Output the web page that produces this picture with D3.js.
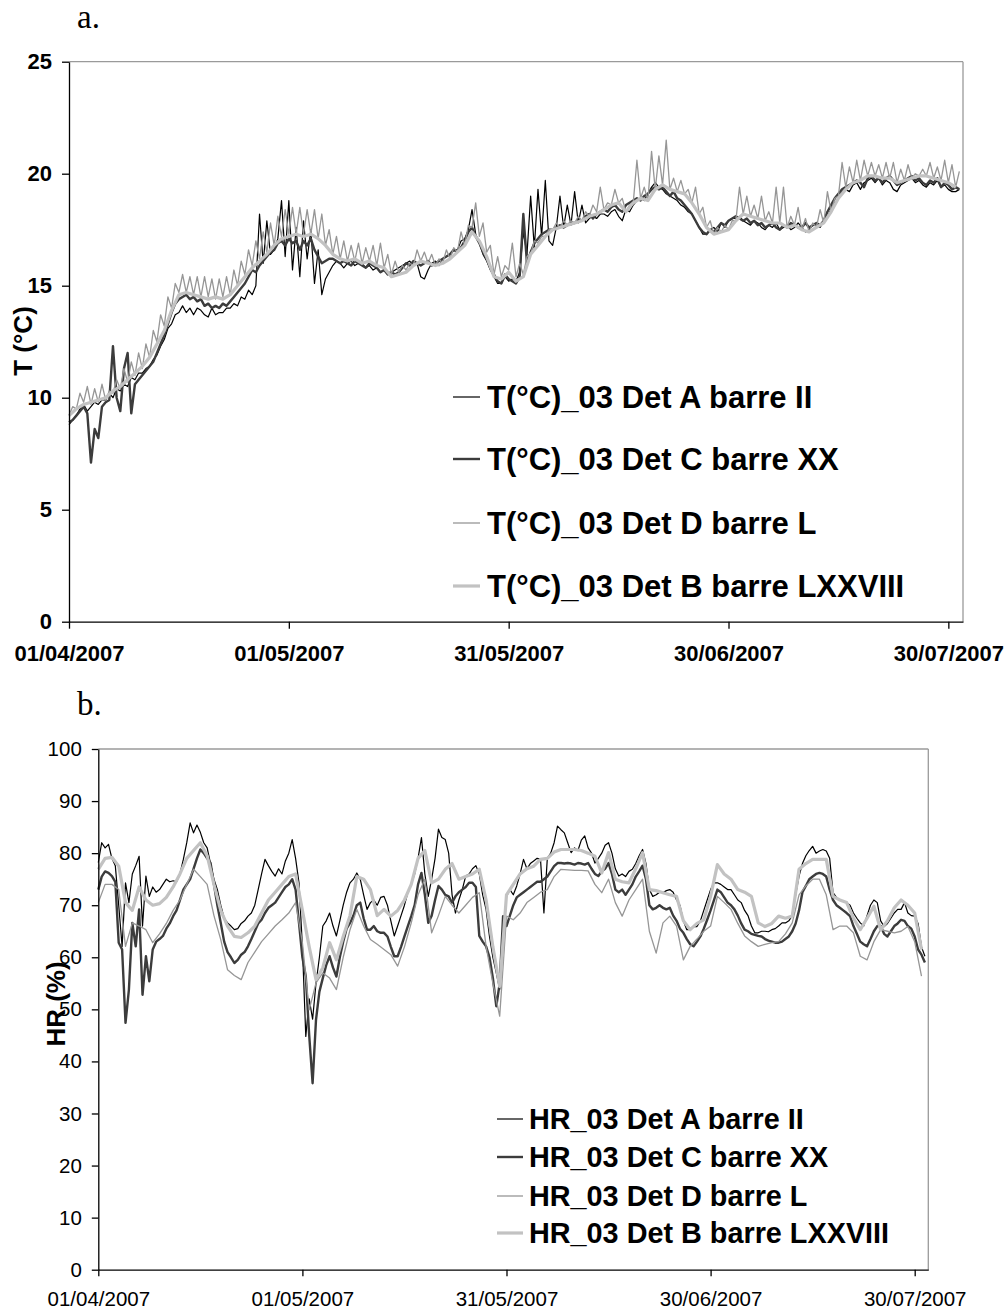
<!DOCTYPE html>
<html><head><meta charset="utf-8">
<script src="https://cdn.jsdelivr.net/npm/d3@7"></script>
<style>body{margin:0;background:#fff}svg{display:block}</style>
</head><body><svg id="c" width="1007" height="1311"></svg>
<script>
// ---------- data ----------
const startDate = "2007-04-01";
const endDate = "2007-08-01";
const tickDates = ["2007-04-01","2007-05-01","2007-05-31","2007-06-30","2007-07-30"];
const tickLabels = ["01/04/2007","01/05/2007","31/05/2007","30/06/2007","30/07/2007"];
const tempTicks = [0,5,10,15,20,25];
const hrTicks = [0,10,20,30,40,50,60,70,80,90,100];
const tempLabels = ["T(°C)_03 Det A barre II","T(°C)_03 Det C barre XX","T(°C)_03 Det D barre L","T(°C)_03 Det B barre LXXVIII"];
const hrLabels = ["HR_03 Det A barre II","HR_03 Det C barre XX","HR_03 Det D barre L","HR_03 Det B barre LXXVIII"];

// temperature, two readings per day
const tempA = [8.8,9.0,9.2,9.5,9.7,9.4,9.6,9.8,9.7,9.9,9.9,10.2,10.0,10.4,10.3,10.6,10.5,10.9,10.8,11.1,
11.1,11.3,11.4,11.7,11.9,12.3,12.6,13.1,13.3,13.7,13.8,14.1,13.8,14.0,13.7,14.0,13.9,13.7,13.6,14.0,
13.7,13.8,13.8,14.0,14.0,14.2,14.1,14.5,14.4,14.8,14.6,15.0,18.2,16.0,17.9,16.4,16.6,17.1,18.8,16.3,
18.8,15.7,17.6,15.4,17.9,16.2,17.5,15.1,16.6,14.6,15.3,15.6,15.9,16.1,16.0,15.8,16.0,16.1,15.9,16.0,
16.0,15.8,15.9,15.7,15.8,15.6,15.7,15.6,15.6,15.7,15.8,15.9,16.0,16.1,15.9,16.0,15.4,15.3,15.7,16.0,
16.1,15.9,16.2,16.3,16.4,16.6,16.6,17.0,17.1,17.5,18.4,17.3,16.9,16.4,16.1,15.7,15.4,15.1,15.1,15.4,
15.2,15.3,15.2,15.6,17.4,16.4,19.0,16.7,19.3,17.2,19.7,17.0,16.8,17.6,19.0,17.6,18.6,17.7,19.2,17.8,
18.6,17.8,18.0,18.1,18.0,18.2,18.2,18.1,18.3,18.4,18.1,17.9,18.4,18.3,18.6,18.8,18.9,18.8,19.1,19.4,
19.6,19.4,19.3,19.1,19.0,18.9,18.8,18.6,18.5,18.3,18.2,17.9,17.6,17.3,17.3,17.5,17.6,17.4,17.8,17.6,
17.9,18.0,18.0,18.1,17.9,17.8,17.7,17.9,17.8,17.6,17.5,17.7,17.6,17.8,17.5,17.6,17.7,17.5,17.6,17.8,
17.6,17.4,17.5,17.7,17.7,17.6,17.9,18.1,18.4,18.7,18.9,19.2,19.3,19.2,19.5,19.6,19.3,19.6,19.7,19.8,
19.6,19.8,19.5,19.7,19.6,19.3,19.2,19.5,19.6,19.7,19.8,19.6,19.7,19.5,19.4,19.6,19.5,19.7,19.4,19.5,
19.3,19.2,19.2,19.3];
const tempC = [8.9,9.0,9.2,9.4,9.6,9.3,7.1,8.6,8.2,9.6,9.8,9.9,12.3,10.0,9.4,11.3,12.0,9.3,10.6,10.8,
11.0,11.2,11.4,11.6,12.0,12.4,12.8,13.3,13.8,14.2,14.4,14.5,14.6,14.4,14.5,14.3,14.4,14.1,14.2,14.0,
14.1,14.0,14.2,14.1,14.3,14.5,14.7,14.9,15.1,15.4,15.7,15.6,15.9,16.1,16.3,16.5,16.6,16.9,17.0,16.8,
17.1,16.9,17.0,16.6,17.0,16.8,17.1,16.6,16.3,16.0,16.1,16.2,16.2,16.1,16.0,16.1,16.0,15.9,16.1,16.0,
15.9,15.8,16.0,15.9,15.8,15.6,15.7,15.5,15.6,15.5,15.6,15.8,16.0,15.9,16.1,16.0,15.9,16.0,16.1,15.9,
16.0,16.1,16.2,16.3,16.4,16.6,16.5,16.7,17.0,17.4,17.6,17.2,16.9,16.5,16.2,15.8,15.5,15.2,15.1,15.5,
15.3,15.2,15.1,15.4,18.2,16.0,16.5,16.9,17.1,17.3,17.4,17.5,17.5,17.6,17.7,17.6,17.7,17.8,17.8,17.9,
17.9,18.1,18.2,18.0,18.2,18.3,18.4,18.3,18.5,18.6,18.4,18.3,18.6,18.7,18.8,18.9,18.8,19.0,19.1,19.3,
19.4,19.3,19.4,19.2,19.0,19.2,18.9,18.8,18.6,18.4,18.2,17.9,17.6,17.4,17.3,17.5,17.4,17.6,17.8,17.7,
17.9,18.0,18.1,18.0,17.9,18.0,17.8,17.9,17.7,17.8,17.6,17.7,17.8,17.6,17.5,17.7,17.6,17.8,17.7,17.6,
17.6,17.8,17.6,17.7,17.8,17.7,17.9,18.3,18.6,18.9,19.1,19.3,19.4,19.5,19.6,19.7,19.6,19.4,19.8,19.9,
19.7,19.8,19.6,19.8,19.9,19.7,19.5,19.6,19.7,19.8,19.9,19.7,19.8,19.6,19.5,19.7,19.6,19.8,19.4,19.6,
19.5,19.3,19.4,19.3];
const tempD = [9.2,9.6,9.5,10.2,9.8,10.5,9.7,10.4,9.8,10.6,9.9,10.3,10.2,10.8,10.4,11.3,10.7,11.6,11.0,12.0,
11.3,12.4,11.8,13.0,12.5,13.7,13.2,14.5,14.0,15.1,14.7,15.5,14.7,15.4,14.6,15.4,14.5,15.4,14.5,15.3,
14.4,15.3,14.5,15.4,14.6,15.7,15.0,16.1,15.5,16.6,15.9,17.0,16.2,17.4,16.5,17.8,16.8,18.1,17.2,18.4,
17.3,18.5,17.3,18.5,17.3,18.4,17.3,18.4,17.1,18.2,16.8,17.5,16.4,17.2,16.2,17.0,16.1,16.8,16.1,16.9,
16.0,16.7,16.1,16.8,15.9,16.9,15.8,16.4,15.5,16.1,15.6,15.9,15.7,16.0,15.9,16.6,16.1,16.5,16.0,16.4,
15.9,16.2,16.0,16.6,16.2,16.7,16.5,17.4,16.8,17.7,17.6,18.7,17.2,17.8,16.5,16.8,15.5,16.3,15.4,15.9,
15.7,16.9,15.4,16.0,15.5,16.3,16.4,17.0,16.9,17.2,17.2,17.5,17.5,17.8,17.6,17.9,17.7,17.9,17.8,18.1,
17.9,18.3,18.1,18.6,18.3,19.4,18.4,18.7,18.6,19.3,18.7,18.9,18.3,18.6,18.7,20.6,18.9,19.4,18.8,21.0,
19.3,20.8,19.5,21.5,19.3,19.8,19.2,19.7,19.1,19.3,18.7,19.4,18.2,18.5,17.6,17.9,17.3,17.6,17.4,17.7,
17.5,17.9,17.9,19.4,18.2,19.0,18.1,18.6,18.0,19.0,17.9,18.3,17.8,19.4,17.8,19.4,17.6,18.1,17.7,18.5,
17.5,18.0,17.4,17.8,17.6,18.4,17.8,19.2,18.3,18.9,19.0,20.5,19.4,20.3,19.6,20.6,19.7,20.6,19.9,20.5,
19.9,20.4,19.8,20.5,19.8,20.5,19.6,20.2,19.7,20.4,19.8,20.0,19.9,20.2,19.9,20.5,19.8,20.3,19.7,20.6,
19.6,20.4,19.4,20.1];
// one reading per day
const tempB = [9.2,9.5,9.7,9.8,9.9,10.0,10.3,10.5,10.8,11.1,11.4,11.8,12.4,13.0,13.9,14.6,14.7,14.6,14.5,14.4,
14.5,14.4,14.6,15.0,15.4,15.8,16.1,16.4,16.8,17.1,17.2,17.3,17.2,17.3,17.1,16.8,16.4,16.2,16.1,16.2,
16.0,16.1,15.9,15.8,15.4,15.5,15.6,15.9,16.1,16.0,15.9,16.0,16.2,16.5,16.8,17.4,17.0,16.3,15.4,15.3,
15.6,15.2,15.4,16.4,16.8,17.2,17.5,17.6,17.7,17.8,17.9,18.1,18.2,18.4,18.6,18.7,18.3,18.7,18.9,18.8,
19.3,19.5,19.3,19.2,19.1,18.7,18.2,17.6,17.3,17.4,17.5,17.9,18.2,18.1,18.0,17.9,17.8,17.8,17.6,17.7,
17.5,17.4,17.6,17.8,18.3,18.9,19.3,19.6,19.7,19.9,19.9,19.8,19.8,19.6,19.7,19.8,19.9,19.9,19.8,19.7,
19.6,19.4];

// relative humidity
const hrA = [78.2,82.0,81.0,81.7,79.0,77.6,70.0,62.1,74.3,70.5,76.0,77.6,79.4,66.0,75.6,71.7,73.5,72.5,73.0,74.0,
75.0,74.5,74.7,74.5,76.0,78.8,82.0,85.8,83.9,85.4,84.0,82.0,81.0,78.0,75.0,73.0,70.0,67.5,66.6,66.0,
65.3,65.5,66.5,67.0,67.9,68.5,70.0,73.0,76.0,78.8,77.6,76.5,75.6,77.0,76.0,78.5,80.0,82.6,79.0,74.3,
62.1,44.8,52.0,48.1,55.0,60.0,66.0,67.0,68.5,66.0,64.1,67.0,70.0,72.5,74.3,75.0,76.2,75.0,72.0,69.2,
70.5,71.0,70.0,71.5,71.7,70.0,67.0,64.1,66.0,68.0,70.0,72.4,74.0,76.0,79.0,83.0,76.0,71.7,75.0,79.0,
84.6,83.0,82.6,80.0,72.0,68.5,71.0,73.0,75.6,76.0,77.0,77.6,76.0,72.0,69.2,64.0,60.0,57.0,53.8,62.0,
71.7,73.0,72.0,73.7,76.0,78.8,77.0,78.0,78.5,79.0,78.8,68.5,79.0,80.0,82.0,85.2,84.5,83.9,82.0,80.1,
81.0,80.5,82.5,83.3,81.0,80.0,78.1,79.0,80.0,81.5,82.0,80.0,77.0,75.6,76.0,75.5,76.5,76.9,78.0,79.5,
80.7,78.0,73.0,71.7,72.0,72.5,72.4,72.8,73.0,72.5,71.0,70.0,67.0,65.3,65.3,65.9,65.9,67.0,69.0,71.0,
73.0,74.3,74.3,74.0,73.5,73.0,73.0,72.0,71.0,70.5,69.0,68.0,66.0,64.7,64.7,65.0,65.0,64.9,65.3,65.5,
66.0,66.6,66.6,67.0,68.0,72.0,75.6,78.0,79.5,80.5,81.3,80.0,80.4,80.7,80.4,79.0,72.4,71.5,71.0,70.8,
70.5,70.0,68.5,67.5,66.6,66.0,68.0,70.0,71.0,70.5,67.0,65.9,66.5,67.5,68.5,69.2,69.2,70.5,68.5,68.0,
67.9,66.5,62.0,60.2];
const hrC = [73.0,75.5,76.5,76.2,75.6,74.5,62.8,61.5,47.4,53.8,66.6,62.1,69.2,52.8,60.2,55.4,61.5,63.0,63.5,64.1,
65.5,66.5,67.9,69.0,71.0,73.0,74.0,75.0,77.0,79.0,80.7,80.0,79.0,78.1,74.0,70.0,66.6,63.0,61.0,60.0,
58.9,59.5,60.5,61.0,62.1,63.5,65.0,66.5,67.2,68.5,69.5,70.0,70.5,71.5,72.5,73.5,74.0,75.0,73.0,66.6,
60.0,56.3,45.0,35.8,48.0,53.4,56.0,58.5,60.2,58.0,56.3,60.0,63.0,65.5,66.6,68.0,70.0,70.5,67.5,65.3,
65.3,66.0,65.0,64.7,64.7,64.0,62.0,60.2,60.2,62.0,64.0,66.0,67.9,70.0,74.0,76.2,72.0,66.6,68.0,71.0,
73.7,73.0,72.0,71.7,70.5,71.7,72.5,73.0,73.5,74.3,74.3,73.5,64.1,63.0,62.1,60.0,56.0,50.6,55.0,67.9,
66.0,68.0,70.0,71.5,72.0,72.5,73.0,73.5,74.0,74.5,74.5,75.0,75.5,76.5,77.5,78.1,78.1,78.0,78.1,78.0,
77.8,78.1,78.0,77.8,78.1,77.0,76.0,75.6,76.5,77.0,78.1,76.0,73.0,72.5,73.0,72.0,73.0,74.0,75.5,76.5,
77.6,75.0,70.0,69.2,69.5,70.0,69.5,69.2,69.5,68.0,67.0,65.5,64.7,63.5,62.5,62.1,63.0,64.0,65.5,67.2,
69.0,71.0,73.0,72.5,71.5,70.5,70.0,69.2,68.0,66.5,65.3,65.0,64.5,64.3,64.1,64.0,63.5,63.2,63.0,62.8,
62.8,63.0,63.5,64.0,65.0,66.5,69.0,72.5,73.7,75.0,75.5,76.0,76.2,76.0,75.5,73.0,71.0,70.0,69.5,69.0,
68.5,67.9,66.0,64.5,63.0,62.5,62.1,63.5,65.0,66.0,66.0,64.5,64.0,65.0,66.0,66.5,67.2,67.0,66.0,65.5,
64.0,61.5,60.5,59.0];
const hrD = [70.5,74.0,74.0,73.0,62.1,66.6,66.0,65.3,62.8,64.5,66.5,69.0,71.0,74.0,76.9,75.5,74.0,68.0,63.4,57.6,
56.5,55.7,59.0,61.0,63.0,64.5,66.0,67.2,68.5,70.5,62.8,49.9,55.1,57.0,56.0,53.8,60.0,65.3,69.2,66.0,
63.4,62.5,61.5,60.5,58.3,62.0,66.6,72.0,75.0,64.7,68.0,71.7,70.0,68.5,70.0,71.5,72.4,62.1,55.0,48.7,
67.9,67.2,68.5,70.5,71.5,72.5,73.0,75.5,76.9,76.8,76.7,76.7,76.6,74.0,72.4,75.0,70.5,67.9,71.0,73.0,
75.0,65.0,60.8,66.6,67.9,66.0,59.5,62.1,63.5,65.0,66.0,71.7,70.5,69.2,66.5,64.1,63.0,62.1,62.5,62.8,
63.0,64.5,66.6,72.0,73.7,75.0,75.0,72.0,65.3,66.0,66.0,64.7,60.2,59.5,63.0,65.3,65.0,64.7,65.0,65.9,
63.0,56.4];
const hrB = [76.9,79.0,79.2,77.5,70.5,69.0,73.5,71.0,70.0,70.3,71.5,73.5,76.0,79.0,80.5,82.0,79.5,74.0,69.0,66.0,
64.0,63.8,64.7,66.0,68.5,71.0,72.5,74.0,75.5,76.0,69.0,62.0,55.7,58.0,62.8,59.5,64.0,68.0,75.5,75.0,
73.0,68.0,69.2,67.9,69.0,71.0,74.0,79.0,80.5,74.3,75.0,76.9,78.0,75.0,75.5,76.0,76.9,71.0,62.0,54.4,
72.0,74.0,76.0,77.0,77.5,78.8,79.0,80.2,80.7,80.7,80.7,80.5,80.0,79.4,76.2,80.1,75.0,74.5,74.3,77.0,
80.1,73.0,72.8,72.4,72.0,71.7,67.0,65.3,66.5,67.2,71.7,77.8,76.0,75.0,73.0,72.5,71.7,66.6,65.9,66.5,
67.9,67.5,67.9,76.9,78.0,78.8,78.8,78.8,71.7,71.0,70.5,67.5,65.3,67.5,69.8,65.3,67.0,69.5,71.0,70.0,
68.5,61.5];

// ---------- drawing ----------
const svg = d3.select("#c");
const FONT = "'Liberation Sans', Arial, sans-serif";
const parse = d3.utcParse("%Y-%m-%d");
const t0 = parse(startDate), t1 = parse(endDate);

const styles = [
  {color:"#000000", width:1.2},
  {color:"#3c3c3c", width:2.4},
  {color:"#969696", width:1.3},
  {color:"#c2c2c2", width:3.2}
];

function seriesPoints(values, hours){
  return values.map((v,i)=>({date:new Date(t0.getTime()+i*hours*3600000), value:v}));
}

function drawChart(cfg){
  const g = svg.append("g");
  const x = d3.scaleUtc().domain([t0,t1]).range([cfg.left, cfg.right]);
  const y = d3.scaleLinear().domain([0, cfg.yMax]).range([cfg.bottom, cfg.top]);

  g.append("line").attr("x1",cfg.left).attr("x2",cfg.right).attr("y1",cfg.top).attr("y2",cfg.top)
    .attr("stroke","#9a9a9a").attr("stroke-width",1.3);
  g.append("line").attr("x1",cfg.right).attr("x2",cfg.right).attr("y1",cfg.top).attr("y2",cfg.bottom)
    .attr("stroke","#9a9a9a").attr("stroke-width",1.3);

  const line = d3.line().x(d=>x(d.date)).y(d=>y(d.value));
  cfg.series.forEach((s,i)=>{
    g.append("path").datum(seriesPoints(s.values, s.hours))
      .attr("fill","none").attr("stroke",styles[i].color).attr("stroke-width",styles[i].width)
      .attr("stroke-linejoin","round").attr("d",line);
  });

  const yAxis = d3.axisLeft(y).tickValues(cfg.yTicks).tickSize(cfg.tick).tickSizeOuter(0).tickPadding(cfg.yPad);
  const ya = g.append("g").attr("transform",`translate(${cfg.left},0)`).call(yAxis);
  ya.select(".domain").attr("stroke","#000").attr("stroke-width",1.3);
  ya.selectAll(".tick line").attr("stroke","#000").attr("stroke-width",1.3);
  ya.selectAll(".tick text").attr("font-family",FONT).attr("font-size",cfg.tickFont)
    .attr("font-weight",cfg.tickWeight).attr("fill","#000");

  const xAxis = d3.axisBottom(x).tickValues(tickDates.map(parse)).tickSize(cfg.tick).tickSizeOuter(0)
    .tickPadding(cfg.xPad).tickFormat((d,i)=>tickLabels[i]);
  const xa = g.append("g").attr("transform",`translate(0,${cfg.bottom})`).call(xAxis);
  xa.select(".domain").attr("stroke","#000").attr("stroke-width",1.3);
  xa.selectAll(".tick line").attr("stroke","#000").attr("stroke-width",1.3);
  xa.selectAll(".tick text").attr("font-family",FONT).attr("font-size",cfg.xFont)
    .attr("font-weight",cfg.tickWeight).attr("fill","#000");

  g.append("text").attr("transform",`translate(${cfg.titleX},${cfg.titleY}) rotate(-90)`)
    .attr("text-anchor","middle").attr("font-family",FONT).attr("font-weight","bold")
    .attr("font-size",cfg.titleFont).attr("fill","#000").text(cfg.title);

  g.append("text").attr("x",cfg.letterX).attr("y",cfg.letterY)
    .attr("font-family","'Liberation Serif', 'Times New Roman', serif").attr("font-size",33)
    .attr("fill","#000").text(cfg.letter);

  cfg.legendLabels.forEach((lab,i)=>{
    const yy = cfg.legendRows[i];
    g.append("line").attr("x1",cfg.legendX).attr("x2",cfg.legendX+cfg.legendLen).attr("y1",yy).attr("y2",yy)
      .attr("stroke",styles[i].color).attr("stroke-width",styles[i].width);
    g.append("text").attr("x",cfg.legendX+cfg.legendLen+cfg.legendGap).attr("y",yy).attr("dy","0.35em")
      .attr("font-family",FONT).attr("font-weight","bold").attr("font-size",cfg.legendFont)
      .attr("fill","#000").text(lab);
  });
}

drawChart({
  left:69, right:963, top:61.7, bottom:621.7, yMax:25, yTicks:tempTicks,
  tick:7, yPad:10, xPad:17, tickFont:22, xFont:22, tickWeight:"bold",
  title:"T (°C)", titleX:32, titleY:341, titleFont:26,
  letter:"a.", letterX:77, letterY:28,
  series:[{values:tempA,hours:12},{values:tempC,hours:12},{values:tempD,hours:12},{values:tempB,hours:24}],
  legendLabels:tempLabels, legendRows:[397,459,523,586], legendX:453, legendLen:27, legendGap:7, legendFont:31
});

drawChart({
  left:98.3, right:928.3, top:749, bottom:1269.7, yMax:100, yTicks:hrTicks,
  tick:6.5, yPad:10, xPad:15, tickFont:20.5, xFont:20.5, tickWeight:"normal",
  title:"HR (%)", titleX:65, titleY:1004, titleFont:26,
  letter:"b.", letterX:77, letterY:715,
  series:[{values:hrA,hours:12},{values:hrC,hours:12},{values:hrD,hours:24},{values:hrB,hours:24}],
  legendLabels:hrLabels, legendRows:[1119,1157,1196,1233], legendX:497, legendLen:26, legendGap:6, legendFont:28.8
});
</script>
</body></html>
